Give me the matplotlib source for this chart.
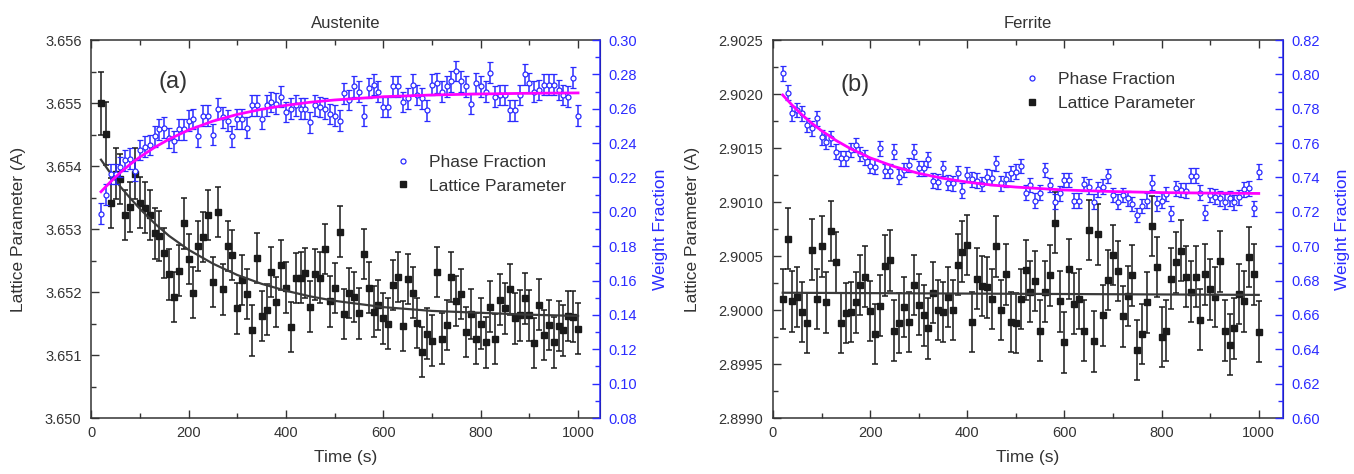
import matplotlib
matplotlib.use("Agg")
import matplotlib.pyplot as plt
from matplotlib.ticker import MultipleLocator, FormatStrFormatter

plt.rcParams['font.family'] = ['Liberation Sans', 'DejaVu Sans']

# time grid of the measurements (s)
time_s = list(range(20, 1001, 10))

# Austenite
aus_wf = [0.199, 0.210, 0.222, 0.222, 0.226, 0.230, 0.231, 0.224, 0.236, 0.238,
          0.239, 0.244, 0.248, 0.249, 0.243, 0.241, 0.248, 0.248, 0.253, 0.254,
          0.244, 0.256, 0.256, 0.245, 0.260, 0.255, 0.253, 0.244, 0.254, 0.254,
          0.249, 0.262, 0.262, 0.254, 0.262, 0.264, 0.263, 0.267, 0.258, 0.260,
          0.262, 0.260, 0.260, 0.252, 0.262, 0.261, 0.260, 0.257, 0.256, 0.253,
          0.269, 0.265, 0.273, 0.270, 0.256, 0.272, 0.274, 0.270, 0.261, 0.261,
          0.273, 0.273, 0.264, 0.266, 0.274, 0.268, 0.266, 0.259, 0.274, 0.275,
          0.270, 0.273, 0.276, 0.282, 0.276, 0.273, 0.263, 0.275, 0.273, 0.270,
          0.281, 0.267, 0.268, 0.268, 0.259, 0.259, 0.268, 0.280, 0.275, 0.270,
          0.271, 0.274, 0.274, 0.274, 0.271, 0.268, 0.267, 0.278, 0.256]
aus_lat = [3.65500, 3.65451, 3.65341, 3.65388, 3.65379, 3.65322, 3.65335, 3.65388, 3.65342, 3.65334,
           3.65322, 3.65293, 3.65289, 3.65262, 3.65228, 3.65192, 3.65234, 3.65309, 3.65252, 3.65199,
           3.65273, 3.65287, 3.65322, 3.65216, 3.65327, 3.65204, 3.65273, 3.65259, 3.65174, 3.65219,
           3.65197, 3.65139, 3.65254, 3.65162, 3.65172, 3.65232, 3.65184, 3.65243, 3.65207, 3.65144,
           3.65222, 3.65223, 3.65230, 3.65177, 3.65228, 3.65223, 3.65268, 3.65185, 3.65206, 3.65296,
           3.65165, 3.65198, 3.65192, 3.65166, 3.65260, 3.65207, 3.65169, 3.65179, 3.65158, 3.65150,
           3.65211, 3.65224, 3.65146, 3.65221, 3.65199, 3.65151, 3.65105, 3.65134, 3.65123, 3.65232,
           3.65126, 3.65148, 3.65224, 3.65186, 3.65197, 3.65137, 3.65165, 3.65126, 3.65150, 3.65120,
           3.65177, 3.65125, 3.65188, 3.65174, 3.65204, 3.65158, 3.65163, 3.65190, 3.65163, 3.65119,
           3.65180, 3.65132, 3.65148, 3.65120, 3.65146, 3.65139, 3.65162, 3.65161, 3.65142]
aus_wf_err = 0.006
aus_lat_err = [0.0005, 0.0005] + [0.0004] * 97

# Ferrite
fer_wf = [0.8006, 0.7893, 0.7773, 0.7793, 0.7773, 0.7705, 0.7686, 0.7744, 0.7634, 0.7608,
          0.7627, 0.7550, 0.7511, 0.7511, 0.7560, 0.7589, 0.7536, 0.7517, 0.7467, 0.7463,
          0.7570, 0.7438, 0.7438, 0.7550, 0.7404, 0.7443, 0.7472, 0.7550, 0.7453, 0.7453,
          0.7506, 0.7381, 0.7375, 0.7453, 0.7370, 0.7366, 0.7424, 0.7323, 0.7415, 0.7389,
          0.7381, 0.7362, 0.7404, 0.7398, 0.7482, 0.7366, 0.7389, 0.7424, 0.7434, 0.7467,
          0.7311, 0.7356, 0.7265, 0.7311, 0.7443, 0.7356, 0.7259, 0.7308, 0.7385, 0.7385,
          0.7265, 0.7265, 0.7362, 0.7346, 0.7259, 0.7331, 0.7346, 0.7408, 0.7298, 0.7259,
          0.7298, 0.7278, 0.7245, 0.7181, 0.7234, 0.7265, 0.7370, 0.7249, 0.7265, 0.7304,
          0.7191, 0.7337, 0.7327, 0.7323, 0.7410, 0.7410, 0.7311, 0.7195, 0.7298, 0.7288,
          0.7278, 0.7259, 0.7278, 0.7255, 0.7284, 0.7331, 0.7337, 0.7220, 0.7434]
fer_lat = [2.90010, 2.90066, 2.90008, 2.90012, 2.89998, 2.89988, 2.90056, 2.90010, 2.90059, 2.90007,
           2.90073, 2.90044, 2.89988, 2.89997, 2.89998, 2.90007, 2.90023, 2.90031, 2.89999, 2.89978,
           2.90004, 2.90041, 2.90046, 2.89981, 2.89988, 2.90003, 2.89989, 2.90023, 2.90005, 2.89995,
           2.89983, 2.90016, 2.90000, 2.89998, 2.90012, 2.90000, 2.90042, 2.90054, 2.90060, 2.89989,
           2.90029, 2.90022, 2.90021, 2.90010, 2.90059, 2.90000, 2.90033, 2.89989, 2.89988, 2.90010,
           2.90037, 2.90017, 2.90027, 2.89981, 2.90017, 2.90032, 2.90081, 2.90008, 2.89970, 2.90038,
           2.90006, 2.90010, 2.89981, 2.90074, 2.89971, 2.90070, 2.89995, 2.90028, 2.90051, 2.90036,
           2.89994, 2.90013, 2.90032, 2.89963, 2.89978, 2.90007, 2.90078, 2.90040, 2.89975, 2.89981,
           2.90029, 2.90044, 2.90055, 2.90031, 2.90017, 2.90031, 2.89991, 2.90033, 2.90019, 2.90012,
           2.90045, 2.89981, 2.89968, 2.89983, 2.90015, 2.90008, 2.90049, 2.90033, 2.89980]
fer_wf_err = 0.0043
fer_lat_err = 0.00028

# fitted curves
fit_t = [20, 40, 60, 80, 100, 130, 160, 200, 250, 300, 350, 400, 450, 500, 600, 700, 800, 900, 1000]
aus_lat_fit = [3.65410, 3.65388, 3.65367, 3.65349, 3.65332, 3.65309, 3.65289, 3.65267, 3.65245, 3.65227,
               3.65213, 3.65202, 3.65193, 3.65186, 3.65176, 3.65170, 3.65167, 3.65164, 3.65162]
aus_wf_fit = [0.2117, 0.2176, 0.2229, 0.2277, 0.2319, 0.2375, 0.2423, 0.2476, 0.2528, 0.2567,
              0.2597, 0.2620, 0.2638, 0.2651, 0.2670, 0.2680, 0.2686, 0.2690, 0.2692]
fer_wf_fit = [0.7880, 0.7819, 0.7764, 0.7715, 0.7672, 0.7615, 0.7567, 0.7514, 0.7463, 0.7424,
              0.7395, 0.7373, 0.7356, 0.7344, 0.7327, 0.7318, 0.7312, 0.7309, 0.7307]
fer_lat_fit_t = [20, 1000]
fer_lat_fit = [2.90016, 2.90014]

BLUE = '#2b2bff'
TXT = '#333333'
BLK = '#1a1a1a'


def style_axes(ax, axr, xmax, lfmt, lmaj, rfmt, rmaj):
    ax.set_xlim(0, xmax)
    ax.xaxis.set_major_locator(MultipleLocator(200))
    ax.xaxis.set_minor_locator(MultipleLocator(100))
    ax.yaxis.set_major_locator(MultipleLocator(lmaj))
    ax.yaxis.set_minor_locator(MultipleLocator(lmaj / 2))
    ax.yaxis.set_major_formatter(FormatStrFormatter(lfmt))
    ax.tick_params(which='both', direction='in', top=True, right=False,
                   color=TXT, labelcolor=TXT, labelsize=10.5, width=1.0)
    ax.tick_params(which='major', length=6)
    ax.tick_params(which='minor', length=3.5)
    ax.tick_params(axis='x', pad=6)
    ax.tick_params(axis='y', pad=7)
    axr.yaxis.set_major_locator(MultipleLocator(rmaj))
    axr.yaxis.set_minor_locator(MultipleLocator(rmaj / 2))
    axr.yaxis.set_major_formatter(FormatStrFormatter(rfmt))
    axr.tick_params(which='both', direction='in', color=BLUE, labelcolor=BLUE,
                    labelsize=10.5, width=1.0, pad=6)
    axr.tick_params(which='major', length=6)
    axr.tick_params(which='minor', length=3.5)
    for s in ['left', 'top', 'bottom']:
        ax.spines[s].set_color(TXT)
        ax.spines[s].set_linewidth(1.1)
    axr.spines['right'].set_color(BLUE)
    axr.spines['right'].set_linewidth(1.1)
    for s in ['left', 'top', 'bottom']:
        axr.spines[s].set_visible(False)
    ax.set_xlabel('Time (s)', fontsize=12.5, color=TXT)
    ax.xaxis.set_label_coords(0.5, -0.085)
    ax.set_ylabel('Lattice Parameter (A)', fontsize=12.5, color=TXT)
    axr.set_ylabel('Weight Fraction', fontsize=12.5, color=BLUE)


def draw_panel(ax, axr, lat, lat_err, wf, wf_err, lat_fit_t, lat_fit, wf_fit):
    ax.plot(lat_fit_t, lat_fit, color='#3a3a3a', lw=1.6, zorder=3)
    lat_h = ax.errorbar(time_s, lat, yerr=lat_err, fmt='s', ms=3.8, color=BLK,
                        ecolor=BLK, elinewidth=1.1, capsize=2.2, capthick=1.1, zorder=2)
    wf_h = axr.errorbar(time_s, wf, yerr=wf_err, fmt='o', ms=3.6, mfc='white',
                        mec=BLUE, mew=0.9, ecolor=BLUE, elinewidth=1.1,
                        capsize=2.2, capthick=1.1, zorder=2)
    axr.plot(fit_t, wf_fit, color='#ff00ff', lw=2.0, zorder=4)
    return lat_h[0], wf_h[0]


fig = plt.figure(figsize=(13.54, 4.74), dpi=100)

# (a) Austenite
ax1 = fig.add_axes([0.0674, 0.1181, 0.3757, 0.7975])
ax1r = ax1.twinx()
lat_line, wf_line = draw_panel(ax1, ax1r, aus_lat, aus_lat_err, aus_wf, aus_wf_err,
                               fit_t, aus_lat_fit, aus_wf_fit)
ax1.set_ylim(3.650, 3.656)
ax1r.set_ylim(0.08, 0.30)
style_axes(ax1, ax1r, 1045, '%.3f', 0.001, '%.2f', 0.02)
ax1.yaxis.set_label_coords(-0.129, 0.5)
ax1r.yaxis.set_label_coords(1.104, 0.5)
ax1.set_title('Austenite', fontsize=12, color=TXT, pad=9)
ax1.text(168, 3.65534, '(a)', fontsize=17, color=TXT, ha='center', va='center')
ax1r.legend([wf_line, lat_line], ['Phase Fraction', 'Lattice Parameter'],
            loc='upper left', bbox_to_anchor=(0.596, 0.697), frameon=False,
            fontsize=12.5, handlelength=1.0, handletextpad=1.0, labelspacing=0.5,
            borderpad=0, borderaxespad=0, labelcolor=TXT)

# (b) Ferrite
ax2 = fig.add_axes([0.5709, 0.1181, 0.3767, 0.7975])
ax2r = ax2.twinx()
lat_line2, wf_line2 = draw_panel(ax2, ax2r, fer_lat, fer_lat_err, fer_wf, fer_wf_err,
                                 fer_lat_fit_t, fer_lat_fit, fer_wf_fit)
ax2.set_ylim(2.8990, 2.9025)
ax2r.set_ylim(0.60, 0.82)
style_axes(ax2, ax2r, 1050, '%.4f', 0.0005, '%.2f', 0.02)
ax2.yaxis.set_label_coords(-0.143, 0.5)
ax2r.yaxis.set_label_coords(1.102, 0.5)
ax2.set_title('Ferrite', fontsize=12, color=TXT, pad=9)
ax2.text(169, 2.90208, '(b)', fontsize=17, color=TXT, ha='center', va='center')
ax2r.legend([wf_line2, lat_line2], ['Phase Fraction', 'Lattice Parameter'],
            loc='upper left', bbox_to_anchor=(0.490, 0.916), frameon=False,
            fontsize=12.5, handlelength=1.0, handletextpad=1.0, labelspacing=0.5,
            borderpad=0, borderaxespad=0, labelcolor=TXT)

fig.savefig('out.png', dpi=100)
